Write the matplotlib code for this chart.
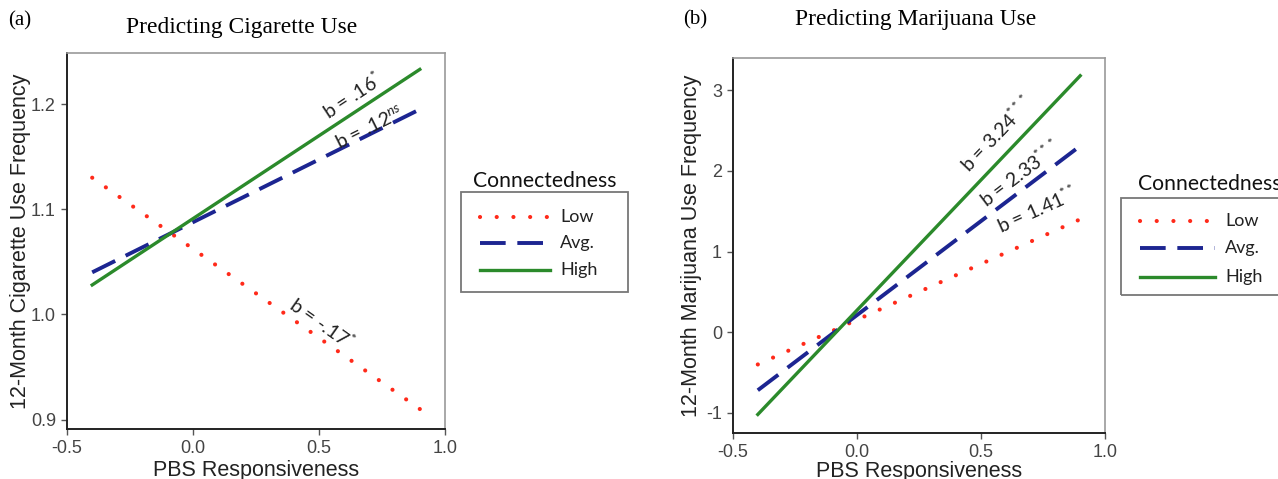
import numpy as np
import matplotlib
matplotlib.use("Agg")
import matplotlib.pyplot as plt
from matplotlib.lines import Line2D
from matplotlib.patches import Rectangle

plt.rcParams['mathtext.fontset'] = 'custom'
plt.rcParams['mathtext.rm'] = 'Lato'
plt.rcParams['mathtext.it'] = 'Lato:italic'
plt.rcParams['mathtext.bf'] = 'Lato:bold'

# ---- data ----
x_ends = [-0.4, 0.9]
groups = ["Low", "Avg.", "High"]
cig_low = [1.130, 0.910]
cig_avg = [1.040, 1.195]
cig_high = [1.028, 1.233]
mj_low = [-0.40, 1.40]
mj_avg = [-0.72, 2.31]
mj_high = [-1.02, 3.18]
cig_labels = ["b = -.17$^{\\mathrm{*}}$", "b = .12$^{ns}$", "b = .16$^{\\mathrm{*}}$"]
mj_labels = ["b = 1.41$^{\\mathrm{**}}$", "b = 2.33$^{\\mathrm{***}}$", "b = 3.24$^{\\mathrm{***}}$"]
cig_label_pos = [(0.512, 0.992), (0.70, 1.178), (0.631, 1.2086)]
mj_label_pos = [(0.726, 1.52), (0.657, 1.975), (0.565, 2.47)]
x_ticks = [-0.5, 0.0, 0.5, 1.0]
cig_yticks = [0.9, 1.0, 1.1, 1.2]
mj_yticks = [-1, 0, 1, 2, 3]

RED = '#ff2a1a'
NAVY = '#1c2591'
GREEN = '#2b8a2b'

styles = [
    dict(color=RED, lw=3.0, linestyle=(0, (0.01, 4.0)), dash_capstyle='round'),
    dict(color=NAVY, lw=2.8, linestyle=(0, (6.6, 3.0))),
    dict(color=GREEN, lw=2.4, linestyle='-'),
]

W, H = 1278, 479
fig = plt.figure(figsize=(W / 100, H / 100), dpi=100)

def fr(x0, y0, x1, y1):
    return [x0 / W, 1 - y1 / H, (x1 - x0) / W, (y1 - y0) / H]

ax1 = fig.add_axes(fr(67, 53, 445, 429))
ax2 = fig.add_axes(fr(733, 58, 1105, 433))

SANS = ['Liberation Sans', 'DejaVu Sans']
SERIF = ['Liberation Serif', 'DejaVu Serif']
CAL = ['Lato', 'DejaVu Sans']

def setup(ax, ylim, yticks, ylabel, ylab_x, xlab_y):
    ax.set_xlim(-0.5, 1.0)
    ax.set_ylim(*ylim)
    ax.set_xticks(x_ticks)
    ax.set_xticklabels([f"{t:.1f}" for t in x_ticks], family=SANS, fontsize=13, color='#444444')
    ax.set_yticks(yticks)
    ax.set_yticklabels([str(t) for t in yticks], family=SANS, fontsize=13, color='#444444')
    ax.tick_params(direction='out', length=4, width=1, color='#555555')
    ax.tick_params(axis='x', pad=4.0)
    ax.tick_params(axis='y', pad=4.0)
    for s in ['left', 'bottom']:
        ax.spines[s].set_color('#222222')
        ax.spines[s].set_linewidth(1.4)
    for s in ['top', 'right']:
        ax.spines[s].set_color('#9a9a9a')
        ax.spines[s].set_linewidth(1.2)
    ax.set_xlabel("PBS Responsiveness", family=SANS, fontsize=15.5, color='#222222')
    ax.set_ylabel(ylabel, family=SANS, fontsize=15.5, color='#222222')
    ax.yaxis.set_label_coords(ylab_x, 0.5)
    ax.xaxis.set_label_coords(0.5, xlab_y)

setup(ax1, (0.891, 1.2486), cig_yticks, "12-Month Cigarette Use Frequency", -0.094, -0.083)
setup(ax2, (-1.25, 3.40), mj_yticks, "12-Month Marijuana Use Frequency", -0.082, -0.074)

for ax, series, labels, poss in [
    (ax1, [cig_low, cig_avg, cig_high], cig_labels, cig_label_pos),
    (ax2, [mj_low, mj_avg, mj_high], mj_labels, mj_label_pos),
]:
    for ys, st, lab, pos in zip(series, styles, labels, poss):
        ax.plot(x_ends, ys, **st)
        p0 = ax.transData.transform((x_ends[0], ys[0]))
        p1 = ax.transData.transform((x_ends[1], ys[1]))
        ang = np.degrees(np.arctan2(p1[1] - p0[1], p1[0] - p0[0]))
        ax.text(pos[0], pos[1], lab, rotation=ang, rotation_mode='anchor',
                ha='center', va='center', family=CAL, fontsize=14, color='#222222')

# titles
fig.text(8 / W, 1 - 21 / H, "(a)", family=SERIF, fontsize=15, va='center', ha='left')
fig.text(242 / W, 1 - 28 / H, "Predicting Cigarette Use", family=SERIF, fontsize=16.9, va='center', ha='center')
fig.text(683 / W, 1 - 20 / H, "(b)", family=SERIF, fontsize=15, va='center', ha='left')
fig.text(916 / W, 1 - 20 / H, "Predicting Marijuana Use", family=SERIF, fontsize=16.9, va='center', ha='center')

# legends (drawn manually so the title sits above the frame, as in the original)
def px(x, y):
    return x / W, 1 - y / H

legend_specs = [
    (473, 181, 461, 192, 628, 292, 480, 550, 560, [217, 243, 270]),
    (1138, 184, 1121, 198, 1300, 295, 1140, 1215, 1225, [221, 248, 277]),
]
for tx, ty, bx0, by0, bx1, by1, hx0, hx1, ltx, rows in legend_specs:
    fig.text(*px(tx, ty), "Connectedness", family=CAL, fontsize=15.2, va='center', ha='left',
             color='#111111')
    fig.add_artist(Rectangle(px(bx0, by1), (bx1 - bx0) / W, (by1 - by0) / H,
                             transform=fig.transFigure, fill=False,
                             edgecolor='#777777', linewidth=1.3))
    for g, st, ry in zip(groups, styles, rows):
        (x0, y0), (x1, _) = px(hx0, ry), px(hx1, ry)
        fig.add_artist(Line2D([x0, x1], [y0, y0], transform=fig.transFigure, **st))
        fig.text(*px(ltx, ry), g, family=CAL, fontsize=13, va='center', ha='left',
                 color='#222222')

fig.savefig("out.png", dpi=100)
